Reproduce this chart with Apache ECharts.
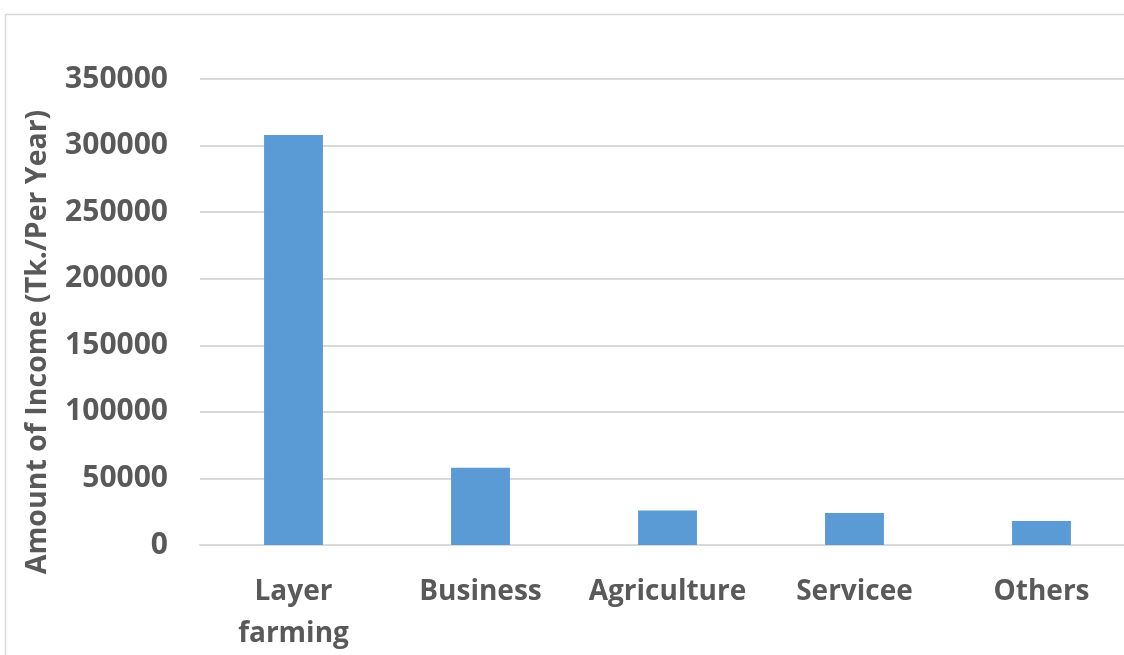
<!DOCTYPE html>
<html>
<head>
<meta charset="utf-8">
<script src="https://cdn.jsdelivr.net/npm/echarts@6/dist/echarts.min.js"></script>
<style>
html,body{margin:0;padding:0;background:#fff;}
#main{width:1124px;height:655px;}
</style>
</head>
<body>
<div id="main"></div>
<script>
const categories = ['Layer\nfarming', 'Business', 'Agriculture', 'Servicee', 'Others'];
const incomeValues = [308000, 58000, 26000, 24000, 18000];
const yTicks = [0, 50000, 100000, 150000, 200000, 250000, 300000, 350000];
const yTitle = 'Amount of Income (Tk./Per Year)';

const chart = echarts.init(document.getElementById('main'), null, {renderer: 'canvas'});
const txt = '#595959';
const font = '"Open Sans", sans-serif';
chart.setOption({
  animation: false,
  backgroundColor: '#fff',
  graphic: [
    {type: 'rect', shape: {x: 5.5, y: 14.5, width: 1200, height: 700}, style: {fill: 'none', stroke: '#d9d9d9', lineWidth: 1.5}, z: -1},
    {type: 'text', x: 38, y: 342, rotation: Math.PI / 2,
     style: {text: yTitle, fill: txt, font: 'bold 28.5px "Open Sans", sans-serif', align: 'center', verticalAlign: 'middle'}}
  ],
  grid: {left: 200, top: 79, width: 935, height: 466, containLabel: false, outerBoundsMode: 'none'},
  xAxis: {
    type: 'category',
    data: categories,
    axisLine: {show: true, lineStyle: {color: '#d9d9d9', width: 2}},
    axisTick: {show: false},
    axisLabel: {color: txt, fontFamily: font, fontWeight: 'bold', fontSize: 28, margin: 26, lineHeight: 42, interval: 0}
  },
  yAxis: {
    type: 'value',
    min: yTicks[0],
    max: yTicks[yTicks.length - 1],
    interval: 50000,
    axisLine: {show: false},
    axisTick: {show: false},
    splitLine: {lineStyle: {color: '#d9d9d9', width: 2}},
    axisLabel: {color: txt, fontFamily: font, fontWeight: 'bold', fontSize: 30, margin: 32,
      formatter: function (v) { return String(v); }}
  },
  series: [{
    type: 'bar',
    data: incomeValues,
    barWidth: '31.5%',
    itemStyle: {color: '#5b9bd5'}
  }]
});
</script>
</body>
</html>
